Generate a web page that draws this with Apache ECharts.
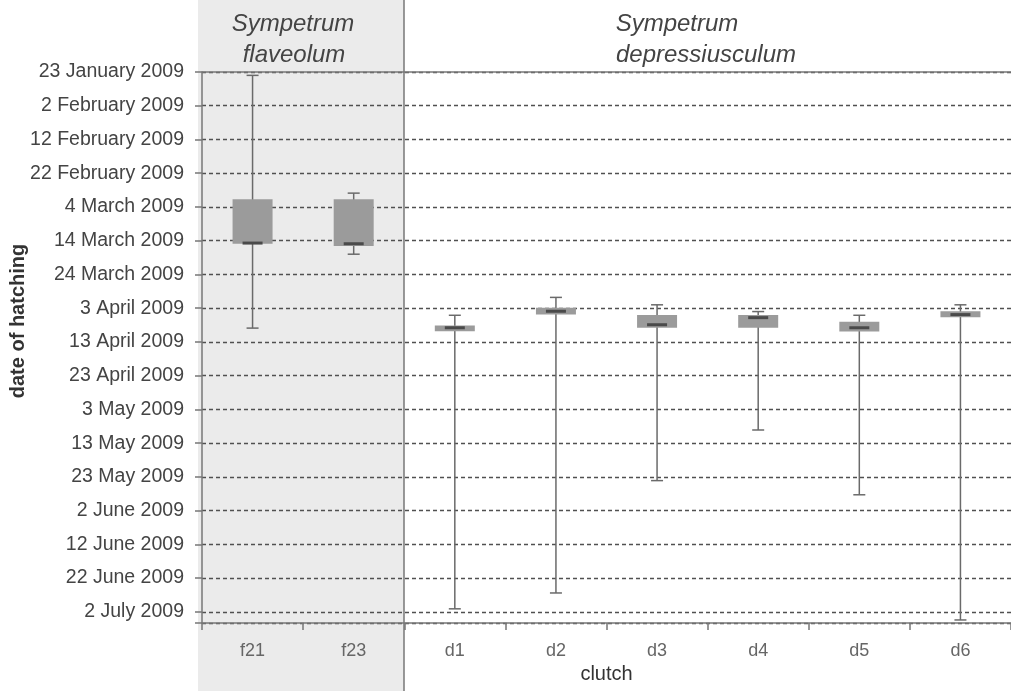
<!DOCTYPE html>
<html>
<head>
<meta charset="utf-8">
<script src="https://cdn.jsdelivr.net/npm/echarts@6/dist/echarts.min.js"></script>
<style>
html,body{margin:0;padding:0;background:#fff;}
#chart{width:1011px;height:691px;}
</style>
</head>
<body>
<div id="chart"></div>
<script>
// Days after 23 January 2009
const categories = ['f21', 'f23', 'd1', 'd2', 'd3', 'd4', 'd5', 'd6'];
const earliest = [1.0, 35.9, 72.1, 66.8, 69.0, 71.0, 72.1, 69.0];
const q1       = [37.7, 37.7, 75.1, 69.9, 72.0, 72.0, 74.0, 70.9];
const median   = [50.7, 50.9, 75.8, 70.9, 74.9, 72.8, 75.8, 71.9];
const q3       = [50.9, 51.6, 76.8, 71.9, 75.8, 75.8, 76.9, 72.7];
const latest   = [75.9, 54.0, 159.1, 154.4, 121.1, 106.1, 125.3, 162.4];
const tickLabels = ['23 January 2009', '2 February 2009', '12 February 2009', '22 February 2009',
  '4 March 2009', '14 March 2009', '24 March 2009', '3 April 2009', '13 April 2009',
  '23 April 2009', '3 May 2009', '13 May 2009', '23 May 2009', '2 June 2009',
  '12 June 2009', '22 June 2009', '2 July 2009'];
const groupTitles = [['Sympetrum', 'flaveolum'], ['Sympetrum', 'depressiusculum']];

const FONT = '"Liberation Sans", Arial, sans-serif';
const data = categories.map((c, i) => [i, earliest[i], q1[i], median[i], q3[i], latest[i]]);

const chart = echarts.init(document.getElementById('chart'), null, {renderer: 'canvas'});

function renderItem(params, api) {
  const i = api.value(0);
  const pE = api.coord([i, api.value(1)]);
  const pQ1 = api.coord([i, api.value(2)]);
  const pM = api.coord([i, api.value(3)]);
  const pQ3 = api.coord([i, api.value(4)]);
  const pL = api.coord([i, api.value(5)]);
  const x = pE[0];
  const bw = 40, cw = 12, mw = 20;
  const lineStyle = {stroke: '#6a6a6a', lineWidth: 1.5};
  return {
    type: 'group',
    children: [
      {type: 'line', shape: {x1: x, y1: pE[1], x2: x, y2: pL[1]}, style: lineStyle},
      {type: 'line', shape: {x1: x - cw / 2, y1: pE[1], x2: x + cw / 2, y2: pE[1]}, style: lineStyle},
      {type: 'line', shape: {x1: x - cw / 2, y1: pL[1], x2: x + cw / 2, y2: pL[1]}, style: lineStyle},
      {type: 'rect', shape: {x: x - bw / 2, y: pQ1[1], width: bw, height: pQ3[1] - pQ1[1]}, style: {fill: '#9b9b9b'}},
      {type: 'line', shape: {x1: x - mw / 2, y1: pM[1], x2: x + mw / 2, y2: pM[1]}, style: {stroke: '#4a4a4a', lineWidth: 3}}
    ]
  };
}

const titleStyle = {font: 'italic 24px ' + FONT, fill: '#444', align: 'center', verticalAlign: 'middle'};

chart.setOption({
  animation: false,
  grid: {left: 202, right: 0, top: 72, bottom: 68, containLabel: false},
  xAxis: {
    type: 'category',
    position: 'bottom',
    data: categories,
    name: 'clutch',
    nameLocation: 'middle',
    nameGap: 40,
    nameTextStyle: {fontFamily: FONT, fontSize: 20, color: '#333'},
    axisLine: {show: true, onZero: false, lineStyle: {color: '#777', width: 1.5}},
    axisTick: {show: true, length: 7, inside: false, alignWithLabel: false, lineStyle: {color: '#777', width: 1.5}},
    axisLabel: {fontFamily: FONT, fontSize: 18, color: '#666', margin: 19, interval: 0},
    splitLine: {show: false}
  },
  yAxis: {
    type: 'value',
    inverse: true,
    min: 0,
    max: 163.3,
    interval: 10,
    axisLine: {show: true, lineStyle: {color: '#777', width: 1.5}},
    axisTick: {show: true, length: 7, inside: false, lineStyle: {color: '#777', width: 1.5}},
    axisLabel: {
      fontFamily: FONT, fontSize: 19.5, color: '#444', margin: 18, showMaxLabel: true, hideOverlap: false,
      formatter: v => (Math.abs(v / 10 - Math.round(v / 10)) < 1e-6 && tickLabels[Math.round(v / 10)]) ? tickLabels[Math.round(v / 10)] : ''
    },
    splitLine: {show: true, lineStyle: {color: '#505050', width: 1.4, type: [4, 3]}}
  },
  graphic: [
    {type: 'rect', z: -10, silent: true, shape: {x: 198, y: 0, width: 206, height: 691}, style: {fill: '#ebebeb'}},
    {type: 'line', z: 100, silent: true, shape: {x1: 404, y1: 0, x2: 404, y2: 691}, style: {stroke: '#777', lineWidth: 1.5}},
    {type: 'text', z: 100, x: 293, y: 24, style: Object.assign({text: groupTitles[0][0]}, titleStyle)},
    {type: 'text', z: 100, x: 294, y: 55, style: Object.assign({text: groupTitles[0][1]}, titleStyle)},
    {type: 'text', z: 100, x: 677, y: 24, style: Object.assign({text: groupTitles[1][0]}, titleStyle)},
    {type: 'text', z: 100, x: 706, y: 55, style: Object.assign({text: groupTitles[1][1]}, titleStyle)},
    {type: 'text', z: 100, x: 18, y: 321, rotation: Math.PI / 2,
      style: {text: 'date of hatching', font: 'bold 20px ' + FONT, fill: '#333', align: 'center', verticalAlign: 'middle'}}
  ],
  series: [{
    type: 'custom',
    renderItem: renderItem,
    encode: {x: 0, y: [1, 2, 3, 4, 5]},
    data: data,
    z: 5,
    markLine: {
      silent: true,
      symbol: 'none',
      label: {show: false},
      lineStyle: {color: '#777', width: 1.5, type: 'solid'},
      data: [{yAxis: 0}]
    }
  }]
});
</script>
</body>
</html>
